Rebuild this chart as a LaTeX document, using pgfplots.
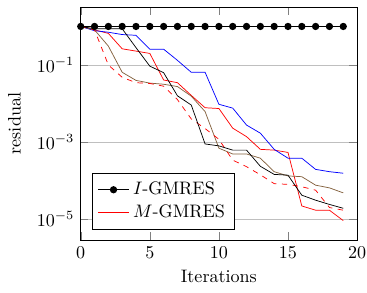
\documentclass[border=0pt]{standalone}
\usepackage{pgfplots}
\pgfplotsset{compat=1.18}
\definecolor{mybrown}{RGB}{130,95,60}
\begin{document}
\begin{tikzpicture}
\begin{axis}[
  scale only axis,
  width=153pt, height=129pt,
  ymode=log,
  xmin=0, xmax=20,
  xtick={0,5,10,15,20},
  ytick={1e-5,1e-3,1e-1},
  ymajorgrids,
  xlabel={Iterations},
  ylabel={residual},
  ylabel shift=2pt,
  legend style={at={(0.04,0.045)}, anchor=south west, inner sep=3pt},
  legend cell align=left,
]
\addplot[black, semithick, mark=*, mark size=1.7pt] coordinates {
(0,1)(1,1)(2,1)(3,1)(4,1)(5,1)(6,1)(7,1)(8,1)(9,1)(10,1)(11,1)(12,1)(13,1)(14,1)(15,1)(16,1)(17,1)(18,1)(19,1)};
\addlegendentry{$I$-GMRES}
\addplot[color=red, mark=none] coordinates {
(0,1)(1,0.8128)(2,0.6607)(3,0.2630)(4,0.2291)(5,0.1995)(6,0.04074)(7,0.03467)(8,0.01622)(9,7.762e-3)(10,7.413e-3)(11,2.291e-3)(12,1.380e-3)(13,6.457e-4)(14,6.166e-4)(15,5.370e-4)(16,2.188e-5)(17,1.698e-5)(18,1.698e-5)(19,9.120e-6)};
\addlegendentry{$M$-GMRES}
\addplot[blue, mark=none, forget plot] coordinates {
(0,1)(1,0.7762)(2,0.7079)(3,0.6166)(4,0.5888)(5,0.2570)(6,0.2570)(7,0.1318)(8,0.0646)(9,0.0646)(10,9.550e-3)(11,7.586e-3)(12,2.754e-3)(13,1.698e-3)(14,6.457e-4)(15,3.802e-4)(16,3.802e-4)(17,1.950e-4)(18,1.698e-4)(19,1.549e-4)};
\addplot[mybrown, mark=none, forget plot] coordinates {
(0,1)(1,0.8128)(2,0.3090)(3,0.0646)(4,0.0398)(5,0.03388)(6,0.03162)(7,0.02754)(8,0.01549)(9,6.166e-3)(10,6.918e-4)(11,4.898e-4)(12,4.898e-4)(13,3.802e-4)(14,1.698e-4)(15,1.318e-4)(16,1.259e-4)(17,7.586e-5)(18,6.457e-5)(19,4.786e-5)};
\addplot[red, dashed, mark=none, forget plot] coordinates {
(0,1)(1,0.8128)(2,0.1)(3,0.04786)(4,0.03467)(5,0.03311)(6,0.02818)(7,0.01259)(8,3.981e-3)(9,2.239e-3)(10,1.175e-3)(11,3.388e-4)(12,2.291e-4)(13,1.413e-4)(14,8.318e-5)(15,7.943e-5)(16,6.918e-5)(17,5.623e-5)(18,1.995e-5)(19,1.698e-5)};
\addplot[black, mark=none, forget plot] coordinates {
(0,1)(1,0.871)(2,0.871)(3,0.871)(4,0.2818)(5,0.0933)(6,0.0631)(7,0.01585)(8,9.120e-3)(9,8.913e-4)(10,7.943e-4)(11,6.166e-4)(12,6.166e-4)(13,2.344e-4)(14,1.445e-4)(15,1.380e-4)(16,4.169e-5)(17,3.090e-5)(18,2.399e-5)(19,1.905e-5)};
\end{axis}
\pgfresetboundingbox
\path ([shift={(-44.7pt,-28.8pt)}]current axis.south west) rectangle ([shift={(5.5pt,3.9pt)}]current axis.north east);
\end{tikzpicture}
\end{document}
